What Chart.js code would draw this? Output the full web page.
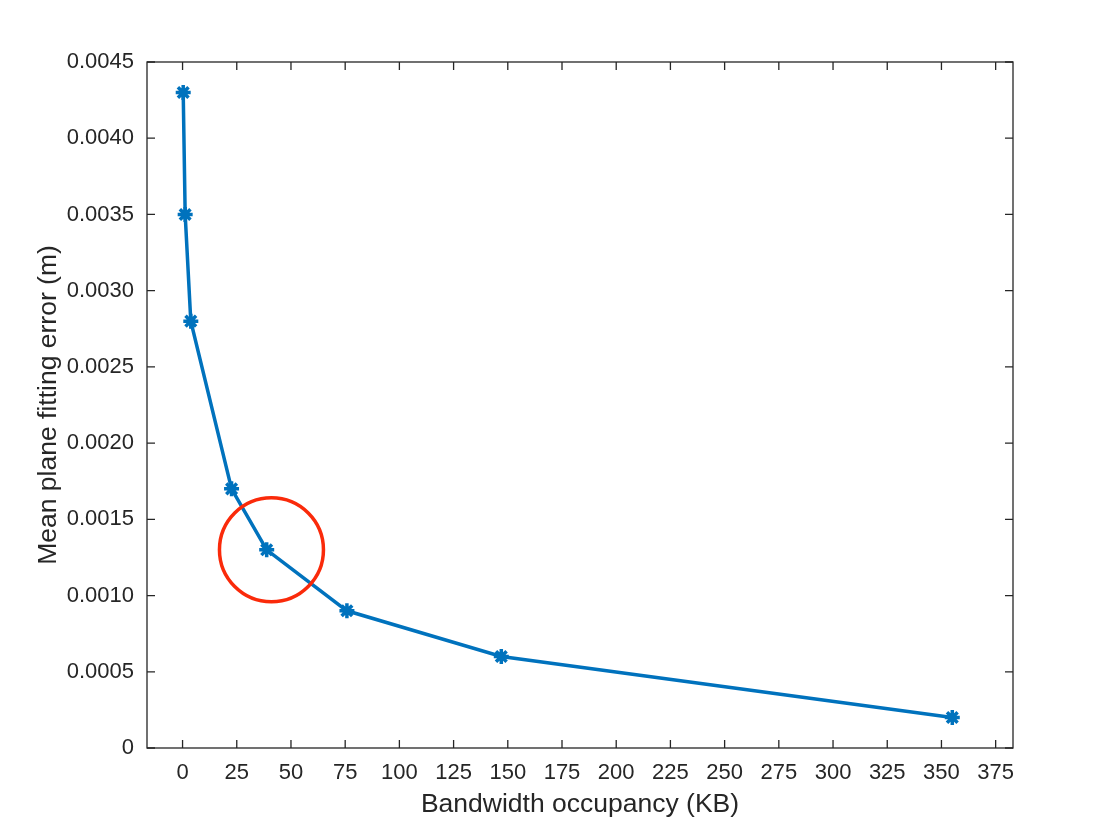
<!DOCTYPE html>
<html>
<head>
<meta charset="utf-8">
<script src="https://cdn.jsdelivr.net/npm/chart.js@4"></script>
<style>
  body { margin: 0; background: #fff; }
  canvas { display: block; }
</style>
</head>
<body>
<canvas id="chartCanvas" width="1120" height="840"></canvas>
<script>
    // data
    var bandwidth = [0.3, 1.2, 3.8, 22.6, 38.8, 75.8, 147, 355];
    var fitError = [0.0043, 0.0035, 0.0028, 0.0017, 0.0013, 0.0009, 0.0006, 0.0002];

    // the highlighted point (red ring)
    var markX = [41];
    var markY = [0.0013];

    var xTicks = [0, 25, 50, 75, 100, 125, 150, 175, 200, 225, 250, 275, 300, 325, 350, 375];
    var yTicks = [0, 0.0005, 0.001, 0.0015, 0.002, 0.0025, 0.003, 0.0035, 0.004, 0.0045];
    var yTickLabels = ['0', '0.0005', '0.0010', '0.0015', '0.0020', '0.0025', '0.0030', '0.0035', '0.0040', '0.0045'];

    var axisColor = '#262626';
    var fontName = '"Liberation Sans", Arial, Helvetica, sans-serif';

    var toPoints = function(xs, ys) {
        return xs.map(function(x, i) { return {x: x, y: ys[i]}; });
    };

    // box round the plot with inward ticks on all four sides
    var boxPlugin = {
        id: 'box',
        beforeDatasetsDraw: function(chart) {
            var ctx = chart.ctx;
            var a = chart.chartArea;
            var xs = chart.scales.x, ys = chart.scales.y;
            var len = 8;
            ctx.save();
            ctx.strokeStyle = axisColor;
            ctx.lineWidth = 1.3;
            ctx.strokeRect(a.left, a.top, a.right - a.left, a.bottom - a.top);
            ctx.beginPath();
            xTicks.forEach(function(v) {
                var px = xs.getPixelForValue(v);
                ctx.moveTo(px, a.bottom); ctx.lineTo(px, a.bottom - len);
                ctx.moveTo(px, a.top); ctx.lineTo(px, a.top + len);
            });
            yTicks.forEach(function(v) {
                var py = ys.getPixelForValue(v);
                ctx.moveTo(a.left, py); ctx.lineTo(a.left + len, py);
                ctx.moveTo(a.right, py); ctx.lineTo(a.right - len, py);
            });
            ctx.stroke();
            ctx.restore();
        }
    };

    var chartData = {
        datasets: [
            {
                data: toPoints(markX, markY),
                showLine: false,
                pointStyle: 'circle',
                pointRadius: 52,
                pointBorderWidth: 3.5,
                pointBorderColor: '#fa2a0a',
                pointBackgroundColor: 'rgba(0,0,0,0)',
                order: 0
            },
            {
                data: toPoints(bandwidth, fitError),
                showLine: true,
                borderColor: '#0072BD',
                borderWidth: 3.5,
                tension: 0,
                pointStyle: 'star',
                pointRadius: 7.5,
                pointBorderWidth: 3.5,
                pointBorderColor: '#0072BD',
                pointBackgroundColor: '#0072BD',
                order: 1
            }
        ]
    };

    var chartOptions = {
        responsive: false,
        animation: false,
        events: [],
        layout: { padding: { left: 0, top: 62, right: 107, bottom: 0 } },
        plugins: { legend: { display: false }, tooltip: { enabled: false } },
        scales: {
            x: {
                type: 'linear',
                min: -16.4,
                max: 383,
                grid: { display: false, drawTicks: false },
                border: { display: false },
                afterBuildTicks: function(scale) {
                    scale.ticks = xTicks.map(function(v) { return {value: v}; });
                },
                afterFit: function(scale) { scale.height = 92; },
                ticks: {
                    padding: 12,
                    color: axisColor,
                    maxRotation: 0,
                    autoSkip: false,
                    font: { family: fontName, size: 22 },
                    callback: function(v, i) { return String(xTicks[i]); }
                },
                title: {
                    display: true,
                    text: 'Bandwidth occupancy (KB)',
                    color: axisColor,
                    font: { family: fontName, size: 26.5 },
                    padding: { top: 0, bottom: 19 }
                }
            },
            y: {
                type: 'linear',
                min: 0,
                max: 0.0045,
                grid: { display: false, drawTicks: false },
                border: { display: false },
                afterBuildTicks: function(scale) {
                    scale.ticks = yTicks.map(function(v) { return {value: v}; });
                },
                afterFit: function(scale) { scale.width = 147; },
                ticks: {
                    padding: 13,
                    color: axisColor,
                    autoSkip: false,
                    font: { family: fontName, size: 22 },
                    callback: function(v, i) { return yTickLabels[i]; }
                },
                title: {
                    display: true,
                    text: 'Mean plane fitting error (m)',
                    color: axisColor,
                    font: { family: fontName, size: 26.5 },
                    padding: { top: 33, bottom: 0 }
                }
            }
        }
    };

    window.onload = function() {
        var ctx = document.getElementById('chartCanvas').getContext('2d');
        window.myChart = new Chart(ctx, {
            type: 'scatter',
            data: chartData,
            options: chartOptions,
            plugins: [boxPlugin]
        });
    };
</script>
</body>
</html>
